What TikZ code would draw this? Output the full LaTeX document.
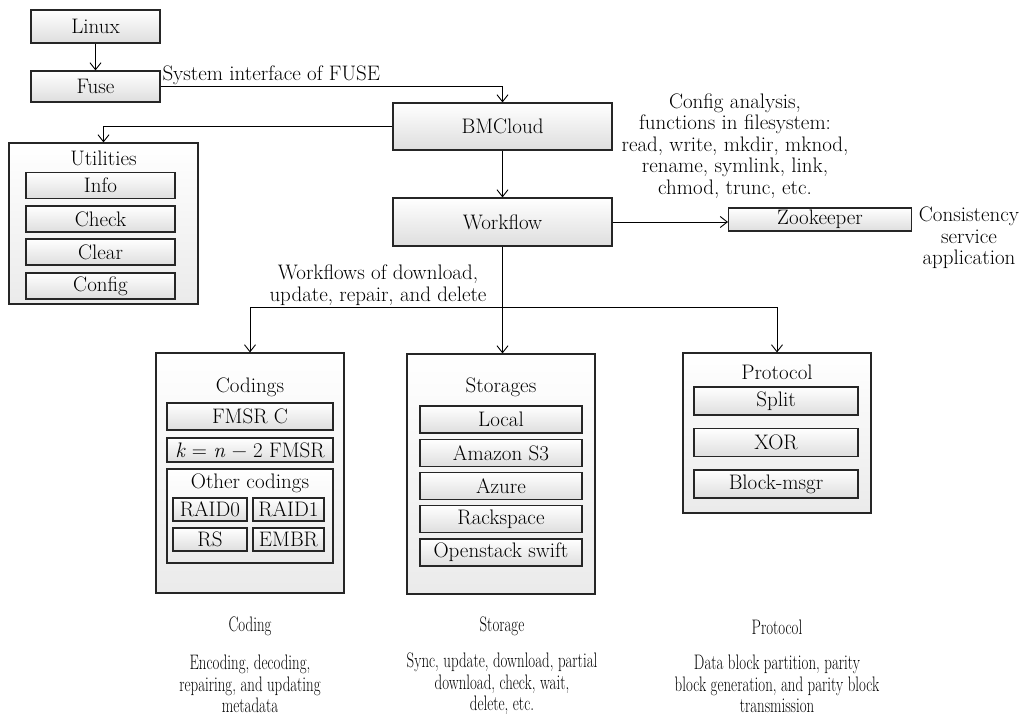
\documentclass[tikz,border=0pt]{standalone}
\usepackage{fontspec}
\usetikzlibrary{arrows.meta}
\tikzset{
  box/.style={draw=black!85, line width=1.1pt, top color=white, bottom color=black!13, inner sep=0pt},
  group/.style={box, bottom color=black!8},
  arr/.style={-{Straight Barb[length=7pt,width=11pt]}, line width=0.9pt},
  note/.style={align=center},
  desc/.style={align=center, xscale=0.71},
}
\begin{document}
\begin{tikzpicture}[x=1pt,y=-1pt,font=\fontsize{21}{21.5}\selectfont]
    \useasboundingbox (0,0) rectangle (1025,720);
    % Linux i Fuse
    \node[box, minimum width=129, minimum height=33] (linux) at (95.5,26.5) {Linux};
    \node[box, minimum width=129, minimum height=31] (fuse) at (95.5,86.5) {Fuse};

    % BMCloud, Workflow, Zookeeper
    \node[box, minimum width=219, minimum height=47] (bmcloud) at (502.5,126.5) {BMCloud};
    \node[box, minimum width=219, minimum height=48] (workflow) at (502.5,222) {Workflow};
    \node[box, minimum width=183, minimum height=23] (zookeeper) at (820,219.5) {Zookeeper};

    % Utilities
    \node[group, minimum width=189, minimum height=161] (utils) at (103.5,223.5) {};
    \node (utilstitle) at (103.5,158) {Utilities};
    \foreach \name/\txt/\y in {info/Info/185.5, check/Check/219, clear/Clear/252, config/Config/286}
        \node[box, minimum width=149, minimum height=26] (\name) at (100.5,\y) {\txt};

    % Codings
    \node[group, minimum width=188, minimum height=240] (coding) at (250,473) {};
    \node (codingtitle) at (250,387) {Codings};
    \node[box, minimum width=166, minimum height=27] (fmsrc) at (250,416.5) {FMSR C};
    \node[box, minimum width=166, minimum height=24] (fmsrk) at (250,450) {\textit{k} = \textit{n} − 2 FMSR};
    \node[group, minimum width=166, minimum height=94] (other) at (250,516) {};
    \node (othertitle) at (250,483) {Other codings};
    \node[box, minimum width=74, minimum height=23] (raid0) at (210,509.5) {RAID0};
    \node[box, minimum width=71, minimum height=23] (raid1) at (288.5,509.5) {RAID1};
    \node[box, minimum width=74, minimum height=23] (rs) at (210,539.5) {RS};
    \node[box, minimum width=71, minimum height=23] (embr) at (288.5,539.5) {EMBR};

    % Storages
    \node[group, minimum width=188, minimum height=240] (storage) at (501,474) {};
    \node (storagetitle) at (501,387) {Storages};
    \foreach \name/\txt/\y in {local/Local/419.5, amazon/Amazon S3/453, azure/Azure/486, rackspace/Rackspace/519, openstack/Openstack swift/552.5}
        \node[box, minimum width=162, minimum height=27] (\name) at (501,\y) {\txt};

    % Protocol
    \node[group, minimum width=188, minimum height=160] (protocol) at (777,433) {};
    \node (protocoltitle) at (777,372) {Protocol};
    \foreach \name/\txt/\y in {split/Split/401, xor/XOR/442.5, blockmsgr/Block-msgr/484}
        \node[box, minimum width=164, minimum height=28] (\name) at (776,\y) {\txt};

    % Polaczenia
    \draw[arr] (linux) -- (fuse);
    \draw[arr] (fuse.east) node[above right, inner sep=1.5pt] {System interface of FUSE} -| (bmcloud.north);
    \draw[arr] (bmcloud.west) -| (utils.north);
    \draw[arr] (bmcloud) -- (workflow);
    \draw[arr] (workflow.east) -- (workflow.east -| zookeeper.west);
    \coordinate (split) at (workflow.south |- 0,307);
    \draw[line width=0.9pt] (workflow) -- (split);
    \draw[arr] (split) -| (coding.north);
    \draw[arr] (split) -| (protocol.north);
    \draw[arr] (split) -- (split |- storage.north);

    % Opisy
    \node[note] (fsnote) at (735,146) {Config analysis,\\functions in filesystem:\\read, write, mkdir, mknod,\\rename, symlink, link,\\chmod, trunc, etc.};
    \node[note] (zknote) at (969,238) {Consistency\\service\\application};
    \node[note] (wfnote) at (378,285) {Workflows of download,\\update, repair, and delete};

    \node[desc] (codinglbl) at (250,626) {Coding};
    \node[desc] (storagelbl) at (502,626) {Storage};
    \node[desc] (protocollbl) at (777,627) {Protocol};
    \node[desc] (codingdesc) at (250,684) {Encoding, decoding,\\repairing, and updating\\metadata};
    \node[desc] (storagedesc) at (502,684) {Sync, update, download, partial\\download, check, wait,\\delete, etc.};
    \node[desc] (protocoldesc) at (777,684) {Data block partition, parity\\block generation, and parity block\\transmission};
\end{tikzpicture}
\end{document}
